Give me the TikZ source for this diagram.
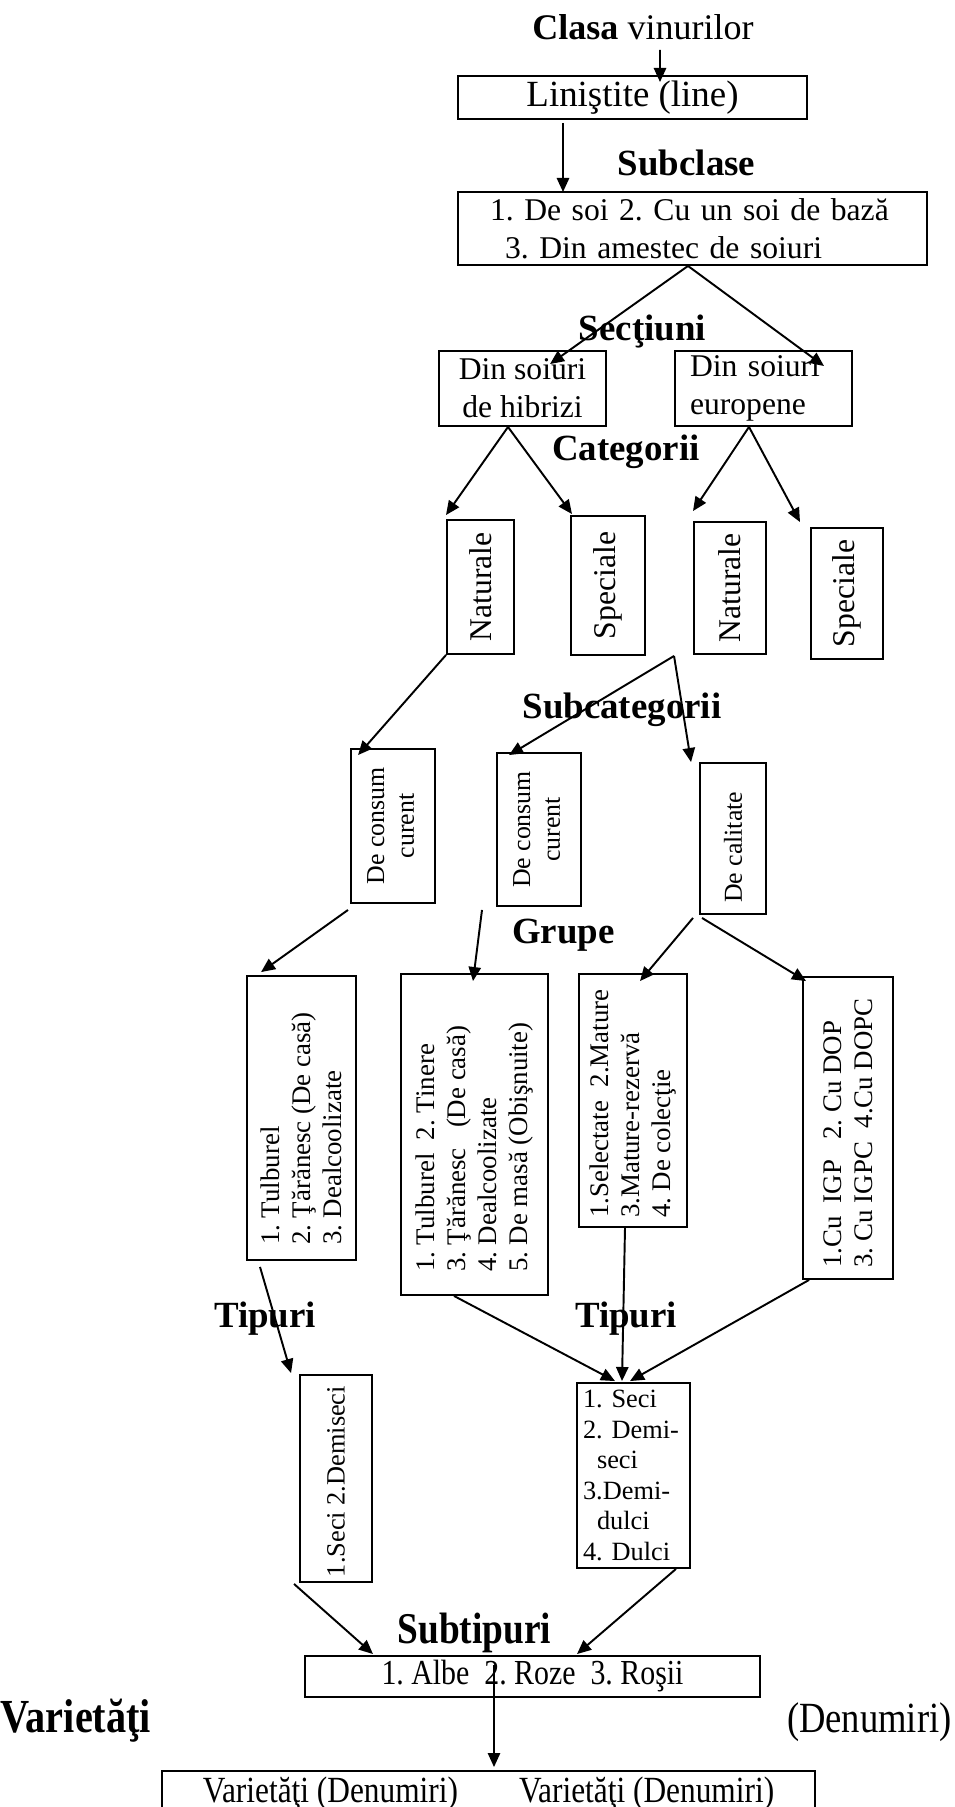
\documentclass[tikz,border=0pt]{standalone}
\usepackage{fontspec}
\setmainfont{Liberation Serif}
\newfontfamily\narrowfont{Liberation Serif}[FakeStretch=0.85]
\usepackage{graphicx}
\usepackage{tikz}
\usetikzlibrary{arrows.meta, positioning, calc}
\tikzstyle{heading} = [inner sep=0pt, anchor=base, font=\fontsize{21}{25}\selectfont\bfseries]
\tikzstyle{wbox} = [rectangle, draw=black, line width=1.1pt, inner sep=0pt, text centered]
\tikzstyle{bigtext} = [font=\fontsize{18}{21.5}\selectfont]
\tikzstyle{midtext} = [font=\fontsize{14.7}{17}\selectfont]
\tikzstyle{grptext} = [font=\fontsize{15.3}{17.6}\selectfont]
\tikzstyle{typetext} = [font=\fontsize{15}{17.4}\selectfont]
\tikzstyle{arr} = [-{Triangle[length=8pt, width=7pt]}, line width=1.1pt]
\frenchspacing

\begin{document}
\begin{tikzpicture}[x=0.02cm, y=-0.02cm]
\useasboundingbox (0,0) rectangle (954,1807);

\node (clasa) [anchor=base, inner sep=0pt, font=\fontsize{20.5}{24}\selectfont] at (643,40) {\textbf{Clasa} vinurilor};
\node (lin) [wbox, minimum width=6.98cm, minimum height=0.86cm, font=\fontsize{21}{25}\selectfont] at (632.5,97.5) {Liniştite (line)};
\node (subclase) [heading] at (686.5,176) {Subclase};
\node (subcl) [wbox, bigtext, minimum width=9.38cm, minimum height=1.46cm, text width=8.1cm, align=left, inner xsep=0.64cm] at (692.5,228.5) {1. De soi 2. Cu un soi de bază\\\hspace*{0.3cm}3. Din amestec de soiuri};

\node (sectiuni) [heading] at (642.5,341) {Secţiuni};
\node (hib) [wbox, bigtext, minimum width=3.34cm, minimum height=1.5cm, align=center] at (522.5,388.5) {Din soiuri\\de hibrizi};
\node (eur) [wbox, bigtext, minimum width=3.54cm, minimum height=1.5cm, text width=2.94cm, align=left, inner xsep=0.3cm] at (763.5,388.5) {Din soiuri\\europene};

\node (categorii) [heading] at (626,460) {Categorii};
\node (nat1) [wbox, bigtext, minimum width=1.34cm, minimum height=2.68cm] at (480.5,587) {\rotatebox{90}{Naturale}};
\node (spec1) [wbox, bigtext, minimum width=1.48cm, minimum height=2.78cm] at (608,585.5) {\rotatebox{90}{Speciale}};
\node (nat2) [wbox, bigtext, minimum width=1.44cm, minimum height=2.64cm] at (730,588) {\rotatebox{90}{Naturale}};
\node (spec2) [wbox, bigtext, minimum width=1.44cm, minimum height=2.62cm] at (847,593.5) {\rotatebox{90}{Speciale}};

\node (subcategorii) [heading] at (622,718) {Subcategorii};
\node (dcc1) [wbox, midtext, minimum width=1.68cm, minimum height=3.08cm] at (393,826) {\rotatebox{90}{\begin{tabular}{@{}c@{}}De consum\\curent\end{tabular}}};
\node (dcc2) [wbox, midtext, minimum width=1.68cm, minimum height=3.06cm] at (539,829.5) {\rotatebox{90}{\begin{tabular}{@{}c@{}}De consum\\curent\end{tabular}}};
\node (cal) [wbox, midtext, minimum width=1.32cm, minimum height=3.02cm] at (733,838.5) {\rotatebox{90}{\parbox{2.58cm}{\raggedright De calitate}}};

\node (grupe) [heading] at (563.5,943) {Grupe};
\node (grp1) [wbox, grptext, minimum width=2.18cm, minimum height=5.68cm] at (301.5,1118) {\rotatebox{90}{\parbox{5.08cm}{\raggedright 1. Tulburel\\2. Ţărănesc (De casă)\\3. Dealcoolizate}}};
\node (grp2) [wbox, grptext, minimum width=2.94cm, minimum height=6.42cm] at (474.5,1134.5) {\rotatebox{90}{\parbox{5.5cm}{\raggedright 1. Tulburel\ \ 2. Tinere\\3. Ţărănesc\ \ \ (De casă)\\4. Dealcoolizate\\5. De masă (Obişnuite)}}};
\node (grp3) [wbox, grptext, minimum width=2.16cm, minimum height=5.06cm] at (633,1100.5) {\rotatebox{90}{\parbox{4.7cm}{\raggedright 1.Selectate\ \ 2.Mature\\3.Mature-rezervă\\4. De colecţie}}};
\node (grp4) [wbox, grptext, minimum width=1.8cm, minimum height=6.04cm] at (848,1128) {\rotatebox{90}{\parbox{5.6cm}{\raggedright 1.Cu\ \ IGP\ \ \ 2. Cu DOP\\3. Cu IGPC\ \ 4.Cu DOPC}}};

\node (tipuri1) [heading] at (265,1327) {Tipuri};
\node (tipuri2) [heading] at (626,1327) {Tipuri};
\node (tip1) [wbox, typetext, minimum width=1.44cm, minimum height=4.14cm] at (336,1478.5) {\rotatebox{90}{\parbox{3.94cm}{\raggedright 1.Seci 2.Demiseci}}};
\node (tip2) [wbox, typetext, minimum width=2.26cm, minimum height=3.7cm, text width=2.02cm, align=left, inner xsep=0.12cm] at (633.5,1475.5) {1. Seci\\2. Demi-\\\hspace*{0.28cm}seci\\3.Demi-\\\hspace*{0.28cm}dulci\\4. Dulci};

\node (subtipuri) [heading, font=\narrowfont\fontsize{25}{30}\selectfont\bfseries] at (474.5,1643) {Subtipuri};
\node (subtip) [wbox, minimum width=9.1cm, minimum height=0.82cm, font=\narrowfont\fontsize{20}{24}\selectfont] at (532.5,1676.5) {1. Albe\ \ 2. Roze\ \ 3. Roşii};
\node (varietati) [anchor=base west, inner sep=0pt, font=\narrowfont\fontsize{27}{30}\selectfont\bfseries] at (0,1732) {Varietăţi};
\node (denumiri) [anchor=base east, inner sep=0pt, font=\narrowfont\fontsize{24.5}{30}\selectfont] at (952,1732) {(Denumiri)};
\node (vardn) [wbox, minimum width=13.06cm, minimum height=0.9cm, font=\narrowfont\fontsize{21}{25}\selectfont] at (488.5,1793.5) {Varietăţi (Denumiri)\hspace{1.22cm}Varietăţi (Denumiri)};

\draw[arr] ($(clasa.base)+(17,10)$) -- ($(lin.north)+(27.5,7)$);
\draw[arr] ($(lin.south)+(-69.5,3)$) -- ($(subcl.north)+(-129.5,1)$);
\draw[arr] ($(subcl.south)+(-4.5,0)$) -- ($(hib.north)+(27.5,14)$);
\draw[arr] ($(subcl.south)+(-4.5,0)$) -- ($(eur.north)+(60.5,16)$);
\draw[arr] ($(hib.south)+(-14.5,0)$) -- ($(nat1.north)+(-34.5,-4)$);
\draw[arr] ($(hib.south)+(-14.5,0)$) -- ($(spec1.north)+(-36,-1)$);
\draw[arr] ($(eur.south)+(-14.5,0)$) -- ($(nat2.north)+(-37,-10)$);
\draw[arr] ($(eur.south)+(-14.5,0)$) -- ($(spec2.north)+(-47,-5)$);
\draw[arr] (nat1.south west) -- ($(dcc1.north west)+(8,7)$);
\draw[arr] ($(nat2.south west)+(-19,1)$) -- ($(dcc2.north west)+(13,3)$);
\draw[arr] ($(nat2.south west)+(-19,1)$) -- ($(cal.north west)+(-8,0)$);
\draw[arr] ($(dcc1.south)+(-45,6)$) -- ($(grp1.north west)+(15,-3)$);
\draw[arr] ($(dcc2.south)+(-57,3)$) -- ($(grp2.north)+(-1.5,8)$);
\draw[arr] ($(cal.south)+(-40,3)$) -- ($(grp3.north)+(7,8)$);
\draw[arr] ($(cal.south)+(-31,3)$) -- ($(grp4.north west)+(4,5)$);
\draw[arr] ($(grp1.south)+(-41.5,6)$) -- ($(tip1.north west)+(-8,-1)$);
\draw[arr] ($(grp2.south)+(-20.5,0)$) -- ($(tip2.north)+(-18.5,-1)$);
\draw[arr] ($(grp3.south)+(-8,0)$) -- ($(tip2.north)+(-11.5,-1)$);
\draw[arr] ($(grp4.south west)+(7,0)$) -- ($(tip2.north)+(-3.5,-1)$);
\draw[arr] ($(tip1.south west)+(-5,1)$) -- ($(subtip.north)+(-159.5,-1)$);
\draw[arr] ($(tip2.south east)+(-15,0)$) -- ($(subtip.north)+(44.5,-1)$);
\draw[arr] ($(subtip.north)+(-38.5,10)$) -- ($(vardn.north)+(5.5,-3)$);
\end{tikzpicture}
\end{document}
